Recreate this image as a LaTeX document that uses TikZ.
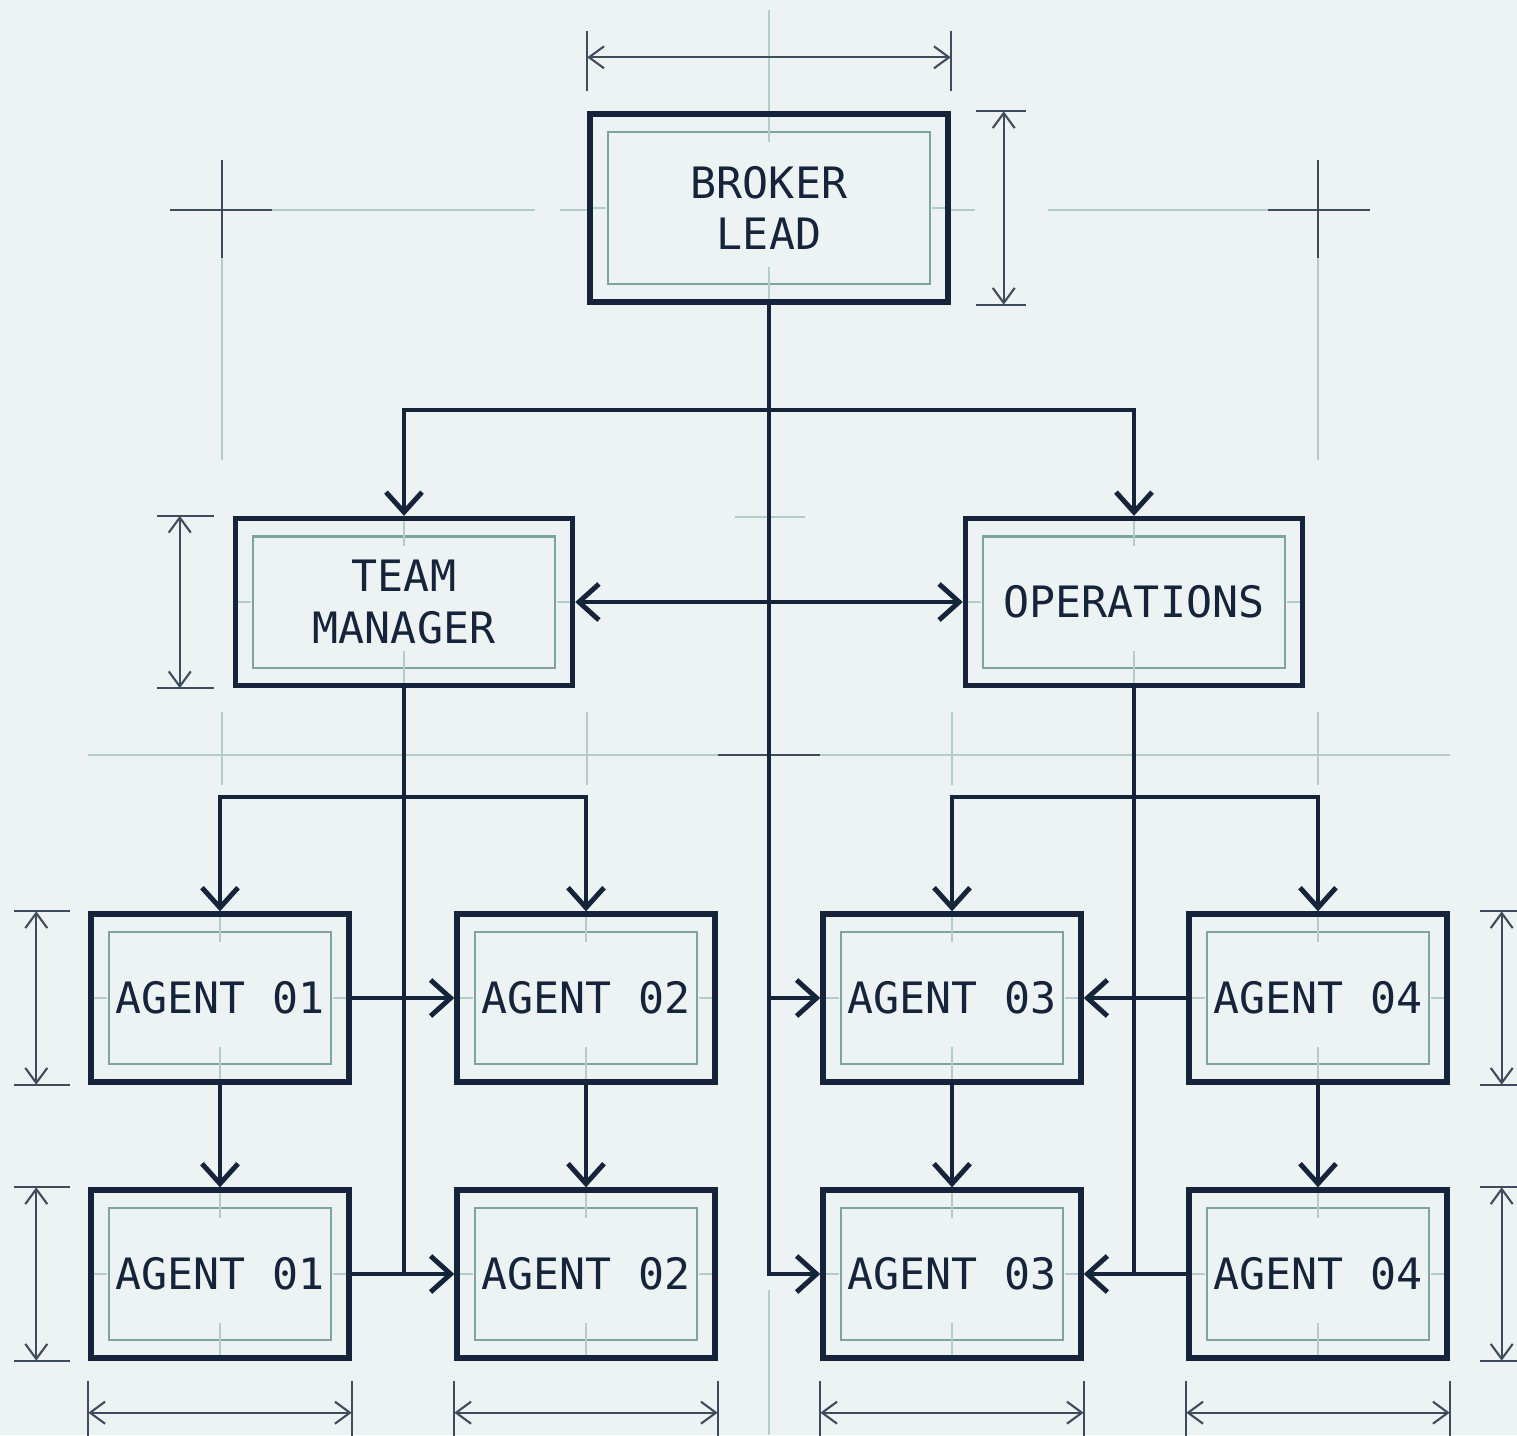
\documentclass[tikz,border=0pt]{standalone}
\usepackage{fontspec}
\setmonofont{DejaVu Sans Mono}
\usepackage{xcolor}
\usepackage{tikz}
\usetikzlibrary{arrows.meta,calc}

\definecolor{paper}{HTML}{EDF3F3}
\definecolor{ink}{HTML}{16243B}
\definecolor{dimgray}{HTML}{3E4C5E}
\definecolor{guidecol}{HTML}{B3CDCA}
\definecolor{innercol}{HTML}{7DA59F}

\begin{document}
\begin{tikzpicture}[
  x=0.01cm, y=-0.01cm,
  unit/.style={draw=ink, line width=1.5pt, fill=paper, inner sep=0pt, align=center,
    text=ink, font=\ttfamily\fontsize{12.3}{14.7}\selectfont,
    path picture={
      \draw[innercol, line width=0.6pt] ($(path picture bounding box.north west)+(18,18)$)
        rectangle ($(path picture bounding box.south east)+(-18,-18)$);
      \draw[guideline] (path picture bounding box.north) -- ++(0,28)
        (path picture bounding box.south) -- ++(0,-35)
        (path picture bounding box.west) -- ++(16,0)
        (path picture bounding box.east) -- ++(-16,0);
    }},
  leadbox/.style={unit, minimum width=3.58cm, minimum height=1.88cm},
  deptbox/.style={unit, minimum width=3.37cm, minimum height=1.67cm},
  agentbox/.style={unit, minimum width=2.58cm, minimum height=1.68cm},
  link/.style={draw=ink, line width=1.4pt},
  arrowed/.style={-{Straight Barb[length=2mm,width=3.6mm]}},
  twoway/.style={{Straight Barb[length=2mm,width=3.6mm]}-{Straight Barb[length=2mm,width=3.6mm]}},
  dimline/.style={draw=dimgray, line width=0.6pt,
    {Straight Barb[length=1.5mm,width=2.2mm]}-{Straight Barb[length=1.5mm,width=2.2mm]}},
  dimtick/.style={draw=dimgray, line width=0.6pt},
  guideline/.style={draw=guidecol, line width=0.6pt},
  cross/.style={draw=dimgray, line width=0.8pt}
]
\fill[paper] (0,0) rectangle (1517,1435);
\useasboundingbox (0,0) rectangle (1517,1435);

% faint construction lines
\draw[guideline] (769,10) -- (769,150) (769,1290) -- (769,1435);
\draw[guideline] (272,210) -- (535,210) (560,210) -- (588,210)
  (950,210) -- (975,210) (1048,210) -- (1268,210);
\draw[guideline] (222,258) -- (222,460) (1318,258) -- (1318,460);
\draw[guideline] (735,517) -- (805,517);
\draw[guideline] (88,755) -- (1450,755);
\draw[guideline] (222,712) -- (222,785) (587,712) -- (587,785)
  (952,712) -- (952,785) (1318,712) -- (1318,785);
\draw[cross] (170,210) -- (272,210) (222,160) -- (222,258);
\draw[cross] (1268,210) -- (1370,210) (1318,160) -- (1318,258);
\draw[cross] (718,755) -- (820,755);

% boxes
\node[leadbox] (lead) at (769,208) {BROKER\\LEAD};
\node[deptbox] (tm) at (404,602) {TEAM\\MANAGER};
\node[deptbox] (ops) at (1134,602) {OPERATIONS};
\node[agentbox] (a1) at (220,998) {AGENT 01};
\node[agentbox] (a2) at (586,998) {AGENT 02};
\node[agentbox] (a3) at (952,998) {AGENT 03};
\node[agentbox] (a4) at (1318,998) {AGENT 04};
\node[agentbox] (b1) at (220,1274) {AGENT 01};
\node[agentbox] (b2) at (586,1274) {AGENT 02};
\node[agentbox] (b3) at (952,1274) {AGENT 03};
\node[agentbox] (b4) at (1318,1274) {AGENT 04};

% connectors
\coordinate (leadfork) at (769,410);
\coordinate (tmfork) at (404,797);
\coordinate (opsfork) at (1134,797);
\draw[link] (lead.south) -- (leadfork);
\draw[link,arrowed] (leadfork) -| (tm.north);
\draw[link,arrowed] (leadfork) -| (ops.north);
\draw[link,arrowed] (leadfork) |- (b3.west);
\draw[link,arrowed] (leadfork |- a3.west) -- (a3.west);
\draw[link,twoway] (tm.east) -- (ops.west);
\draw[link] (tm.south) -- (tmfork |- b1.east);
\draw[link,arrowed] (tmfork) -| (a1.north);
\draw[link,arrowed] (tmfork) -| (a2.north);
\draw[link] (ops.south) -- (opsfork |- b4.west);
\draw[link,arrowed] (opsfork) -| (a3.north);
\draw[link,arrowed] (opsfork) -| (a4.north);
\draw[link,arrowed] (a1.east) -- (a2.west);
\draw[link,arrowed] (b1.east) -- (b2.west);
\draw[link,arrowed] (a4.west) -- (a3.east);
\draw[link,arrowed] (b4.west) -- (b3.east);
\draw[link,arrowed] (a1.south) -- (b1.north);
\draw[link,arrowed] (a2.south) -- (b2.north);
\draw[link,arrowed] (a3.south) -- (b3.north);
\draw[link,arrowed] (a4.south) -- (b4.north);

% dimensions
\draw[dimtick] ($(lead.north west)+(0,-80)$) -- ++(0,60) ($(lead.north east)+(0,-80)$) -- ++(0,60);
\draw[dimline] ($(lead.north west)+(0,-54)$) -- ($(lead.north east)+(0,-54)$);
\draw[dimtick] ($(lead.north east)+(25,0)$) -- ++(50,0) ($(lead.south east)+(25,0)$) -- ++(50,0);
\draw[dimline] ($(lead.north east)+(53,0)$) -- ($(lead.south east)+(53,0)$);
\draw[dimtick] ($(tm.north west)+(-76,0)$) -- ++(57,0) ($(tm.south west)+(-76,0)$) -- ++(57,0);
\draw[dimline] ($(tm.north west)+(-53,0)$) -- ($(tm.south west)+(-53,0)$);
\draw[dimtick] ($(a1.north west)+(-74,0)$) -- ++(56,0) ($(a1.south west)+(-74,0)$) -- ++(56,0);
\draw[dimline] ($(a1.north west)+(-52,0)$) -- ($(a1.south west)+(-52,0)$);
\draw[dimtick] ($(b1.north west)+(-74,0)$) -- ++(56,0) ($(b1.south west)+(-74,0)$) -- ++(56,0);
\draw[dimline] ($(b1.north west)+(-52,0)$) -- ($(b1.south west)+(-52,0)$);
\draw[dimtick] ($(a4.north east)+(30,0)$) -- ++(60,0) ($(a4.south east)+(30,0)$) -- ++(60,0);
\draw[dimline] ($(a4.north east)+(52,0)$) -- ($(a4.south east)+(52,0)$);
\draw[dimtick] ($(b4.north east)+(30,0)$) -- ++(60,0) ($(b4.south east)+(30,0)$) -- ++(60,0);
\draw[dimline] ($(b4.north east)+(52,0)$) -- ($(b4.south east)+(52,0)$);
\draw[dimtick] ($(b1.south west)+(0,20)$) -- ++(0,60) ($(b1.south east)+(0,20)$) -- ++(0,60);
\draw[dimline] ($(b1.south west)+(0,52)$) -- ($(b1.south east)+(0,52)$);
\draw[dimtick] ($(b2.south west)+(0,20)$) -- ++(0,60) ($(b2.south east)+(0,20)$) -- ++(0,60);
\draw[dimline] ($(b2.south west)+(0,52)$) -- ($(b2.south east)+(0,52)$);
\draw[dimtick] ($(b3.south west)+(0,20)$) -- ++(0,60) ($(b3.south east)+(0,20)$) -- ++(0,60);
\draw[dimline] ($(b3.south west)+(0,52)$) -- ($(b3.south east)+(0,52)$);
\draw[dimtick] ($(b4.south west)+(0,20)$) -- ++(0,60) ($(b4.south east)+(0,20)$) -- ++(0,60);
\draw[dimline] ($(b4.south west)+(0,52)$) -- ($(b4.south east)+(0,52)$);
\end{tikzpicture}
\end{document}
